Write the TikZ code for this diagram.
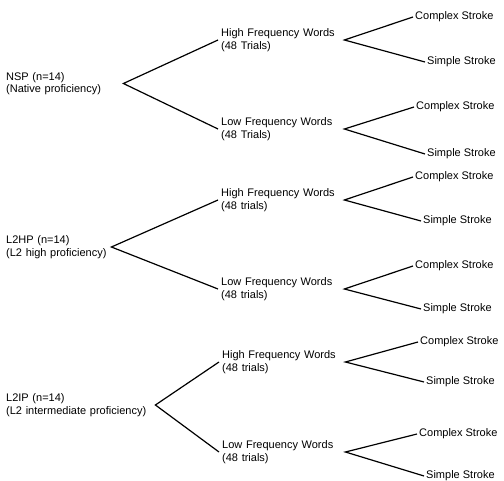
\documentclass[tikz,border=0pt]{standalone}
\usepackage{fontspec}
\setmainfont{Liberation Sans}
\usetikzlibrary{positioning}

\begin{document}
\begin{tikzpicture}[x=1pt,y=-1pt]
    \tikzset{label/.style={anchor=west,inner sep=3pt,align=left,font=\fontsize{11}{12.5}\selectfont},
      group/.style={label,text width=#1},
      freq/.style={label,text width=120pt},
      stroke/.style={label,inner sep=2pt},
      branch/.style={draw=black,line width=1.2pt}}
    \useasboundingbox[fill=white] (0,0) rectangle (504,481);
    % proficiency groups
    \node[group=114pt] (nsp) at (3,83.5) {NSP (n=14)\\(Native proficiency)};
    \node[group=102pt] (hp) at (3,247) {L2HP (n=14)\\(L2 high proficiency)};
    \node[group=146pt] (ip) at (3,405) {L2IP (n=14)\\(L2 intermediate proficiency)};
    % word frequency
    \node[freq] (hf1) at (218,40) {High Frequency Words\\(48 Trials)};
    \node[freq] (lf1) at (218,129) {Low Frequency Words\\(48 Trials)};
    \node[freq] (hf2) at (218,200) {High Frequency Words\\(48 trials)};
    \node[freq] (lf2) at (218,289) {Low Frequency Words\\(48 trials)};
    \node[freq] (hf3) at (219,362) {High Frequency Words\\(48 trials)};
    \node[freq] (lf3) at (219,452) {Low Frequency Words\\(48 trials)};
    % stroke type
    \node[stroke] (c11) at (413,17) {Complex Stroke};
    \node[stroke] (s11) at (425,62) {Simple Stroke};
    \node[stroke] (c12) at (414,107) {Complex Stroke};
    \node[stroke] (s12) at (425,154) {Simple Stroke};
    \node[stroke] (c21) at (413,177) {Complex Stroke};
    \node[stroke] (s21) at (421,221) {Simple Stroke};
    \node[stroke] (c22) at (413,266) {Complex Stroke};
    \node[stroke] (s22) at (421,309) {Simple Stroke};
    \node[stroke] (c31) at (418,342) {Complex Stroke};
    \node[stroke] (s31) at (424,382) {Simple Stroke};
    \node[stroke] (c32) at (417,434) {Complex Stroke};
    \node[stroke] (s32) at (424,476) {Simple Stroke};
    \foreach \g/\h/\l in {nsp/hf1/lf1,hp/hf2/lf2,ip/hf3/lf3}{
      \draw[branch] (\h.west) -- (\g.east) -- (\l.west);
    }
    \foreach \m/\c/\s in {hf1/c11/s11,lf1/c12/s12,hf2/c21/s21,lf2/c22/s22,hf3/c31/s31,lf3/c32/s32}{
      \draw[branch] (\c.west) -- (\m.east) -- (\s.west);
    }
  \end{tikzpicture}
\end{document}
